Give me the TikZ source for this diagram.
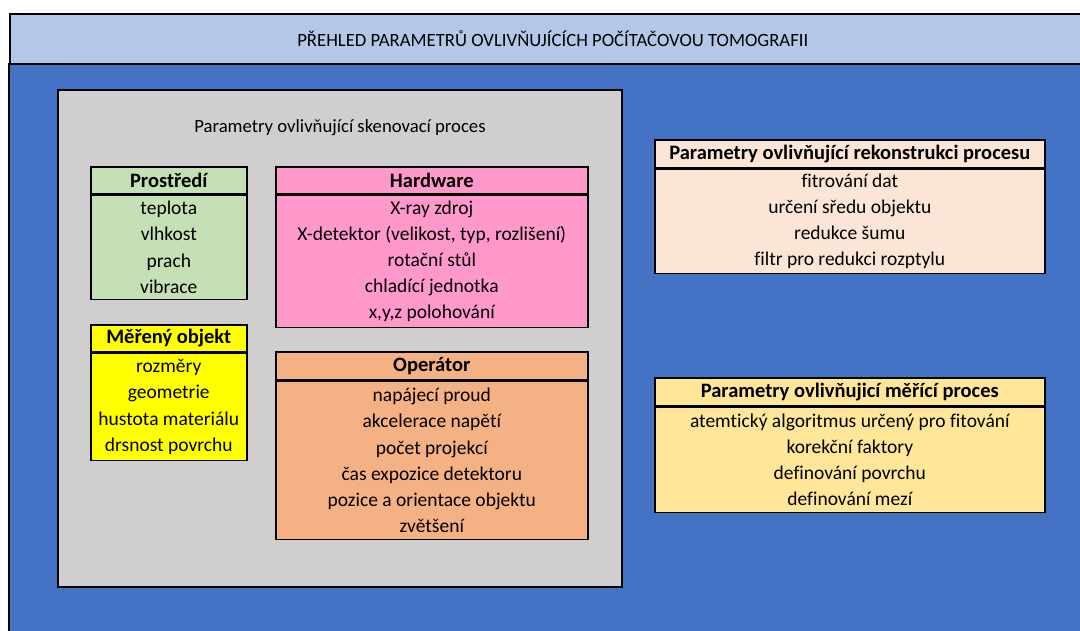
\documentclass[tikz,border=0pt]{standalone}
\usepackage{fontspec}
\setmainfont{Carlito}[Ligatures=NoCommon]
\definecolor{bluebg}{HTML}{4472C4}
\definecolor{titleblue}{HTML}{B4C7E7}
\definecolor{scangray}{HTML}{D0CECE}
\definecolor{envgreen}{HTML}{C5E0B4}
\definecolor{hwpink}{HTML}{FF99CC}
\definecolor{objyellow}{HTML}{FFFF00}
\definecolor{oporange}{HTML}{F4B183}
\definecolor{recpeach}{HTML}{FBE5D6}
\definecolor{measgold}{HTML}{FFE699}
\tikzset{
  boxline/.style={draw=black, line width=1.6pt},
  hdr/.style={boxline, anchor=north west, inner sep=0pt, font=\fontsize{20.5}{22}\selectfont\bfseries},
  bodybox/.style={boxline, anchor=north, inner sep=0pt, align=center, font=\fontsize{19.5}{26.2}\selectfont},
}
\begin{document}
\begin{tikzpicture}[x=1pt,y=-1pt]
\useasboundingbox (0,0) rectangle (1080,631);
% blue area and title band
\fill[bluebg] (9,63) rectangle (1090,640);
\draw[line width=1.6pt] (9,63) -- (9,640);
\node[draw=black, line width=1.6pt, fill=titleblue, anchor=north west, minimum width=1086pt, minimum height=50pt, inner sep=0pt,
      font=\fontsize{18.7}{20}\selectfont] (title) at (9,13) {PŘEHLED PARAMETRŮ OVLIVŇUJÍCÍCH POČÍTAČOVOU TOMOGRAFII};
% scanning process panel
\node[boxline, fill=scangray, anchor=north west, minimum width=564pt, minimum height=497pt, inner sep=0pt] (scan) at (57,89) {};
\node[font=\fontsize{18.7}{20}\selectfont] (scantitle) at (340,128) {Parametry ovlivňující skenovací proces};
% Prostředí
\node[hdr, fill=envgreen, minimum width=156pt, minimum height=27pt] (envh) at (90,166) {Prostředí};
\node[bodybox, fill=envgreen, minimum width=156pt, minimum height=104pt] (envb) at (envh.south) {teplota\\vlhkost\\prach\\vibrace};
% Hardware
\node[hdr, fill=hwpink, minimum width=312pt, minimum height=27pt] (hwh) at (275,166) {Hardware};
\node[bodybox, fill=hwpink, minimum width=312pt, minimum height=132pt] (hwb) at (hwh.south) {X-ray zdroj\\X-detektor (velikost, typ, rozlišení)\\rotační stůl\\chladící jednotka\\x,y,z polohování};
% Měřený objekt
\node[hdr, fill=objyellow, minimum width=156pt, minimum height=27pt] (objh) at (90,324) {Měřený objekt};
\node[bodybox, fill=objyellow, minimum width=156pt, minimum height=107pt] (objb) at (objh.south) {rozměry\\geometrie\\hustota materiálu\\drsnost povrchu};
% Operátor
\node[hdr, fill=oporange, minimum width=312pt, minimum height=28pt] (oph) at (275,351) {Operátor};
\node[bodybox, fill=oporange, minimum width=312pt, minimum height=158pt] (opb) at (oph.south) {napájecí proud\\akcelerace napětí\\počet projekcí\\čas expozice detektoru\\pozice a orientace objektu\\zvětšení};
% Rekonstrukce
\node[hdr, fill=recpeach, minimum width=390pt, minimum height=28pt] (rech) at (654,139) {Parametry ovlivňující rekonstrukci procesu};
\node[bodybox, fill=recpeach, minimum width=390pt, minimum height=104pt] (recb) at (rech.south) {fitrování dat\\určení sředu objektu\\redukce šumu\\filtr pro redukci rozptylu};
% Měřicí proces
\node[hdr, fill=measgold, minimum width=390pt, minimum height=28pt] (meah) at (654,377) {Parametry ovlivňujicí měřící proces};
\node[bodybox, fill=measgold, minimum width=390pt, minimum height=105pt] (meab) at (meah.south) {atemtický algoritmus určený pro fitování\\korekční faktory\\definování povrchu\\definování mezí};
\end{tikzpicture}
\end{document}
